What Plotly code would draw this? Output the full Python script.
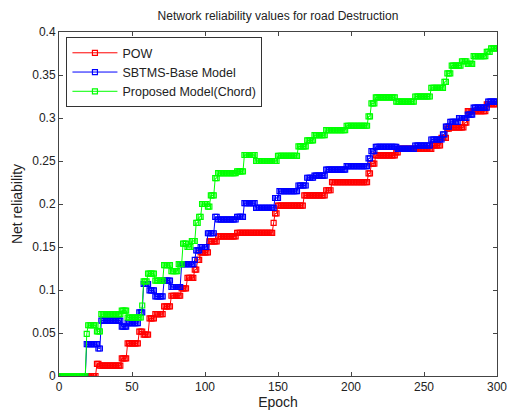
import numpy as np
import plotly.graph_objects as go

# Step data: epoch where a new level starts, and the level
epochs = np.arange(0, 301)

pow_start = [0, 26, 28, 43, 47, 55, 58, 62, 66, 72, 77, 84, 88, 93, 95, 97, 103, 109, 122,
             147, 148, 150, 168, 183, 187, 212, 214, 217, 231, 233, 256, 262, 266, 268, 278, 280, 293]
pow_val = [0, 0.014, 0.012, 0.0205, 0.038, 0.0517, 0.048, 0.067, 0.072, 0.081, 0.0933, 0.102, 0.114,
           0.1236, 0.135, 0.1438, 0.1566, 0.1624, 0.1664, 0.178, 0.189, 0.198, 0.210, 0.216, 0.2255,
           0.2355, 0.247, 0.2565, 0.260, 0.264, 0.268, 0.277, 0.2877, 0.289, 0.2946, 0.308, 0.316]

sbtms_start = [0, 19, 27, 29, 43, 47, 55, 58, 62, 66, 72, 77, 84, 93, 94, 97, 102, 107, 109, 122,
               127, 135, 148, 151, 164, 170, 175, 183, 197, 212, 214, 217, 232, 244, 255, 263, 265,
               268, 274, 280, 284, 294]
sbtms_val = [0, 0.037, 0.032, 0.0645, 0.0575, 0.0614, 0.074, 0.107, 0.0995, 0.0925, 0.111, 0.1035,
             0.130, 0.135, 0.146, 0.150, 0.166, 0.185, 0.182, 0.185, 0.201, 0.1955, 0.207, 0.215,
             0.2215, 0.2305, 0.233, 0.240, 0.244, 0.253, 0.2615, 0.2665, 0.264, 0.268, 0.275, 0.281,
             0.290, 0.2955, 0.300, 0.304, 0.312, 0.319]

chord_start = [0, 19, 20, 26, 29, 43, 47, 57, 58, 61, 66, 72, 77, 82, 85, 88, 91, 94, 96, 98, 102,
               104, 107, 109, 122, 127, 135, 150, 164, 170, 175, 183, 197, 212, 214, 217, 231, 244,
               255, 264, 266, 269, 276, 280, 284, 293, 296]
chord_val = [0, 0.049, 0.059, 0.052, 0.072, 0.076, 0.068, 0.082, 0.110, 0.119, 0.111, 0.129, 0.122,
             0.130, 0.154, 0.150, 0.157, 0.178, 0.185, 0.200, 0.197, 0.210, 0.230, 0.236, 0.238,
             0.257, 0.250, 0.256, 0.267, 0.274, 0.280, 0.286, 0.291, 0.302, 0.317, 0.324, 0.319,
             0.325, 0.335, 0.342, 0.352, 0.361, 0.366, 0.363, 0.372, 0.377, 0.381]


def expand(starts, vals):
    idx = np.searchsorted(np.array(starts), epochs, side="right") - 1
    return np.array(vals)[idx]


series = [
    ("POW", pow_start, pow_val, "#ff0000"),
    ("SBTMS-Base Model", sbtms_start, sbtms_val, "#0000ff"),
    ("Proposed Model(Chord)", chord_start, chord_val, "#00ff00"),
]

fig = go.Figure()
for name, s, v, c in series:
    fig.add_trace(go.Scatter(
        x=epochs, y=expand(s, v), name=name, mode="lines+markers",
        line=dict(color=c, width=1),
        marker=dict(symbol="square-open", size=5, color=c, line=dict(width=1.2, color=c)),
    ))

axis_common = dict(showline=True, linecolor="#444", linewidth=1, mirror="ticks",
                   ticks="inside", ticklen=4, tickcolor="#444", showgrid=False, zeroline=False,
                   automargin=False, ticklabeloverflow="allow",
                   tickfont=dict(family="Liberation Sans, Arial", size=12, color="#222"))

fig.update_layout(
    width=507, height=412,
    margin=dict(l=59, r=10, t=32, b=36),
    paper_bgcolor="white", plot_bgcolor="white",
    font=dict(family="Liberation Sans, Arial", size=12, color="#222"),
    title=dict(text="Network reliability values for road Destruction", x=0.5, xref="paper",
               y=0.962, yref="container", xanchor="center", yanchor="middle",
               font=dict(size=12, color="#222")),
    xaxis=dict(range=[0, 300], dtick=50, title=dict(text="Epoch", standoff=2), **axis_common),
    yaxis=dict(range=[0, 0.4], dtick=0.05, title=dict(text="Net reliability", standoff=6), **axis_common),
    legend=dict(x=0.017, y=0.985, xanchor="left", yanchor="top", bgcolor="white",
                bordercolor="#333", borderwidth=1, font=dict(size=12.5, color="#222"),
                tracegroupgap=0, itemwidth=45),
    showlegend=True,
)

fig.write_html("out.html")
